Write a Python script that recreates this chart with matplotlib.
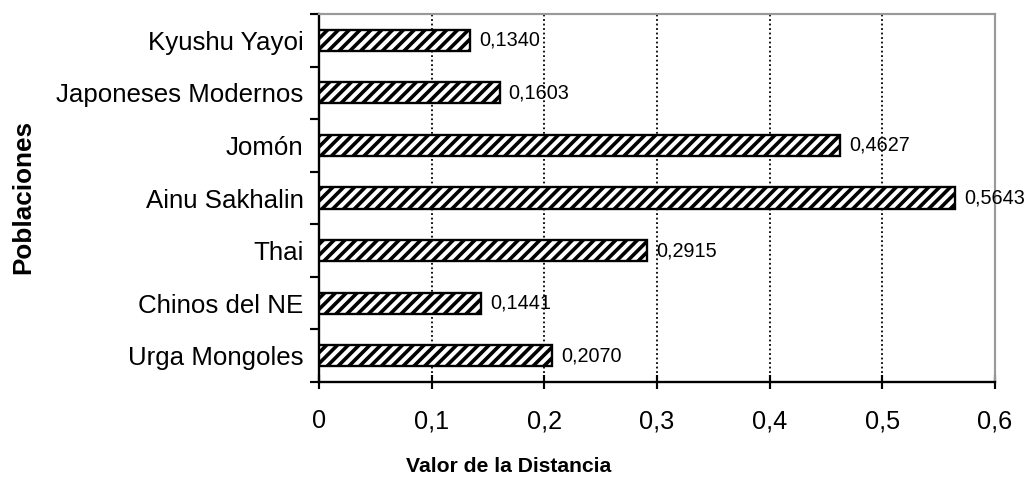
import matplotlib
matplotlib.use("Agg")
import matplotlib.pyplot as plt
import numpy as np

categories = ["Urga Mongoles", "Chinos del NE", "Thai", "Ainu Sakhalin",
              "Jomón", "Japoneses Modernos", "Kyushu Yayoi"]
values = [0.2070, 0.1441, 0.2915, 0.5643, 0.4627, 0.1603, 0.1340]
xticks = [0, 0.1, 0.2, 0.3, 0.4, 0.5, 0.6]
xticklabels = ["0", "0,1", "0,2", "0,3", "0,4", "0,5", "0,6"]

DPI = 130
plt.rcParams['font.family'] = ['Liberation Sans', 'DejaVu Sans']
plt.rcParams['hatch.linewidth'] = 2.0
plt.rcParams['hatch.color'] = 'black'

fig = plt.figure(figsize=(1033 / DPI, 478 / DPI), dpi=DPI)
ax = fig.add_axes([319 / 1033, 1 - 382 / 478, (995 - 319) / 1033, (382 - 14) / 478])

y = np.arange(len(categories))
bars = ax.barh(y, values, height=0.4, color='white', edgecolor='black',
               linewidth=1.3, hatch='////', zorder=3)

for yi, v in zip(y, values):
    ax.text(v + 0.008, yi, f"{v:.4f}".replace('.', ','), va='center', ha='left',
            fontsize=11, zorder=4)

ax.set_xlim(0, 0.6)
ax.set_ylim(-0.5, len(categories) - 0.5)
ax.set_xticks(xticks)
ax.set_xticklabels(xticklabels, fontsize=14)
ax.set_yticks(y)
ax.set_yticklabels(categories, fontsize=14.3)
ax.set_yticks(np.arange(-0.5, len(categories)), minor=True)
ax.tick_params(axis='y', which='major', length=0, pad=8.5)
ax.tick_params(axis='y', which='minor', length=5, width=1.2, direction='out')
ax.tick_params(axis='x', which='major', length=8, width=1.2, direction='inout', pad=11)

for xv in xticks[1:-1]:
    ax.axvline(xv, color='black', linestyle=(0, (1, 1.5)), linewidth=1.0, zorder=1)

for s in ['left', 'bottom']:
    ax.spines[s].set_linewidth(1.3)
    ax.spines[s].set_color('black')
for s in ['top', 'right']:
    ax.spines[s].set_color('#999999')
    ax.spines[s].set_linewidth(1.2)

fig.text(509 / 1033, 1 - 466 / 478, "Valor de la Distancia", ha='center', va='center',
         fontsize=11.7, fontweight='bold')
fig.text(23 / 1033, 1 - 197 / 478, "Poblaciones", ha='center', va='center',
         rotation=90, fontsize=14.5, fontweight='bold')

fig.savefig("out.png", dpi=DPI)
